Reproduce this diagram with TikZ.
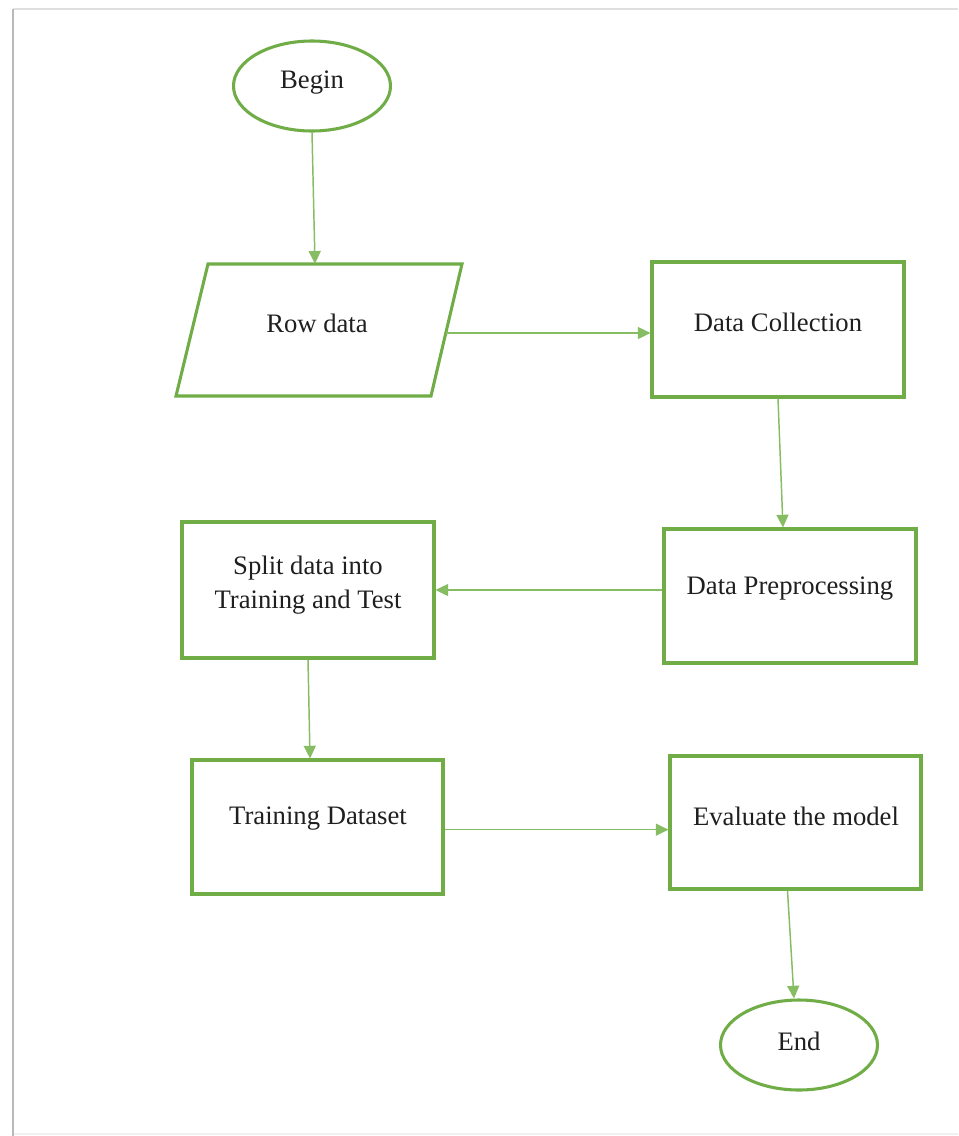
\documentclass[tikz,border=0pt]{standalone}
\usepackage{fontspec}
\setmainfont{Liberation Serif}
\usetikzlibrary{arrows.meta,shapes.geometric,fit,calc}
\definecolor{boxgreen}{HTML}{70AD47}
\definecolor{arrgreen}{HTML}{86BC62}
\begin{document}
\begin{tikzpicture}[x=0.75pt,y=-0.75pt,
  box/.style={draw=boxgreen, line width=2.3pt, inner sep=0pt},
  term/.style={draw=boxgreen, line width=2.3pt, ellipse, minimum width=117.75pt, minimum height=67.5pt, inner sep=0pt},
  lbl/.style={font=\fontsize{20}{25}\selectfont, text=black!88, align=center, inner sep=0pt},
  arr/.style={draw=arrgreen, line width=1.1pt, -{Triangle[length=9.5pt,width=9pt]}, color=arrgreen}]
\useasboundingbox (0,0) rectangle (958,1136);
\fill[white] (0,0) rectangle (958,1136);
% page frame
\draw[gray!25, line width=1pt] (13,9) -- (958,9);
\draw[gray!55, line width=2pt] (13,9) -- (13,1136);
\draw[gray!12, line width=1pt] (14,1134) -- (958,1134);

% shapes
\node[term] (begin) at (312,86) {};
\draw[boxgreen, line width=2.3pt, line join=miter] (208,264) -- (462,264) -- (431,396) -- (176,396) -- cycle;
\node[inner sep=0pt, fit={(176,264) (462,396)}] (row) {};
\coordinate (row-e) at (446,333);
\node[box, fit={(652,262) (904,397)}] (dc) {};
\node[box, fit={(664,529) (916,663)}] (pre) {};
\node[box, fit={(182,522) (434,658)}] (split) {};
\node[box, fit={(192,760) (443,894)}] (train) {};
\node[box, fit={(670,756) (921,889)}] (eval) {};
\node[term] (end) at (799,1045) {};

% texts
\node[lbl] (t-begin) at (312,83) {Begin};
\node[lbl] (t-row) at (317,323) {Row data};
\node[lbl] (t-dc) at (778,322) {Data Collection};
\node[lbl] (t-pre) at (790,589) {Data Preprocessing};
\node[lbl] (t-split) at (308,585) {Split data into\\Training and Test};
\node[lbl] (t-train) at (318,819) {Training Dataset};
\node[lbl] (t-eval) at (796,816) {Evaluate the model};
\node[lbl] (t-end) at (799,1041) {End};

% connectors
\draw[arr] (begin.south) -- ([xshift=-3pt]row.north);
\draw[arr] (row-e) -- (row-e -| dc.west);
\draw[arr] (dc.south) -- ([xshift=-5.25pt]pre.north);
\draw[arr] ([yshift=4.5pt]pre.west) -- ([yshift=4.5pt]pre.west -| split.east);
\draw[arr] (split.south) -- ([xshift=-5.6pt]train.north);
\draw[arr] ([yshift=-2pt]train.east) -- ([yshift=-2pt]train.east -| eval.west);
\draw[arr] ([xshift=-6pt]eval.south) -- ([xshift=-3.75pt]end.north);
\end{tikzpicture}
\end{document}
